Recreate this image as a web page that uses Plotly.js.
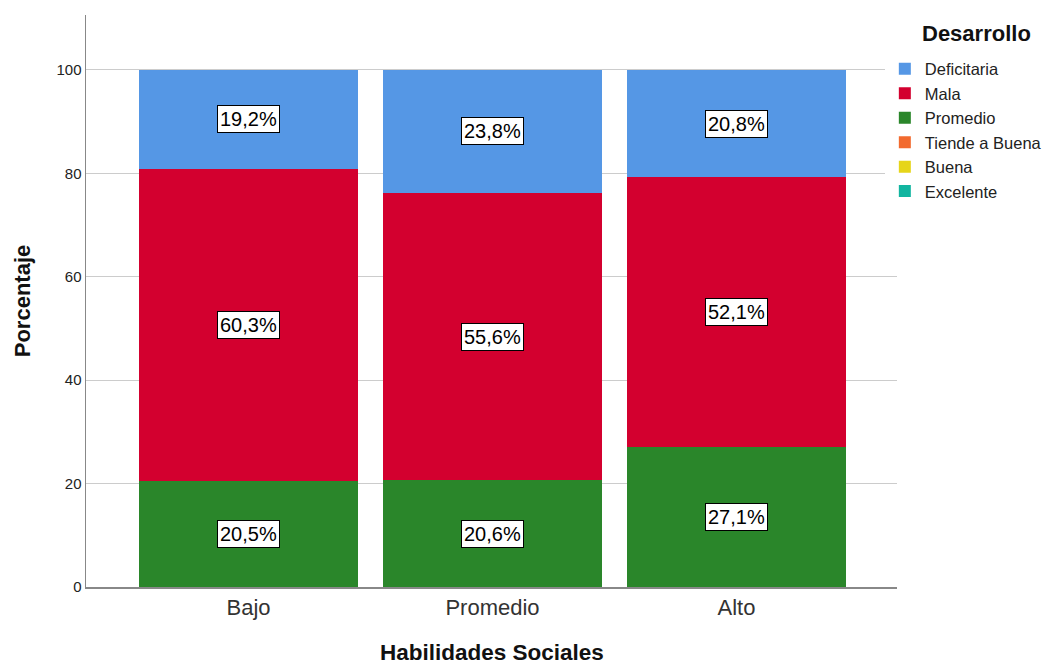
<!DOCTYPE html>
<html>
<head>
<meta charset="utf-8">
<script src="https://cdn.plot.ly/plotly-3.0.1.min.js"></script>
<style>html,body{margin:0;padding:0;background:#fff;}#chart{width:1056px;height:664px;}</style>
</head>
<body>
<div id="chart"></div>
<script>
const categories = ["Bajo", "Promedio", "Alto"];
const seriesNames = ["Deficitaria", "Mala", "Promedio", "Tiende a Buena", "Buena", "Excelente"];
const deficitaria = [19.2, 23.8, 20.8];
const mala = [60.3, 55.6, 52.1];
const promedio = [20.5, 20.6, 27.1];
const tiendeABuena = [0, 0, 0];
const buena = [0, 0, 0];
const excelente = [0, 0, 0];
const yTicks = [0, 20, 40, 60, 80, 100];

const colors = {
  "Deficitaria": "#5597E5",
  "Mala": "#D3002F",
  "Promedio": "#2A862A",
  "Tiende a Buena": "#F26A2E",
  "Buena": "#E6D51A",
  "Excelente": "#12B5A0"
};

// bottom-to-top stacking order
const stack = [
  ["Excelente", excelente],
  ["Buena", buena],
  ["Tiende a Buena", tiendeABuena],
  ["Promedio", promedio],
  ["Mala", mala],
  ["Deficitaria", deficitaria]
];

const font = "Liberation Sans, Arial, sans-serif";

const traces = stack.map(([name, vals]) => ({
  type: "bar",
  name: name,
  x: categories,
  y: vals,
  width: 0.898,
  marker: {color: colors[name], line: {width: 0}},
  hoverinfo: "skip"
}));

// labels in the middle of each non-zero segment
const annotations = [];
const cum = categories.map(() => 0);
stack.forEach(([name, vals]) => {
  vals.forEach((v, i) => {
    if (v > 0) {
      annotations.push({
        x: categories[i], y: cum[i] + v / 2, xref: "x", yref: "y",
        text: v.toFixed(1).replace(".", ",") + "%",
        showarrow: false,
        font: {family: font, size: 20, color: "#000"},
        bgcolor: "#fff", bordercolor: "#000", borderwidth: 1, borderpad: 2
      });
    }
    cum[i] += v;
  });
});

annotations.push({
  xref: "paper", yref: "paper", x: 1.0986, y: 0.9685,
  xanchor: "center", yanchor: "middle", showarrow: false,
  text: "<b>Desarrollo</b>",
  font: {family: font, size: 22, color: "#111"}
});
annotations.push({
  xref: "paper", yref: "paper", x: 0.5, y: -0.1145,
  xanchor: "center", yanchor: "middle", showarrow: false,
  text: "<b>Habilidades Sociales</b>",
  font: {family: font, size: 22.5, color: "#111"}
});

const layout = {
  width: 1056, height: 664,
  margin: {l: 86, r: 159, t: 15, b: 77, autoexpand: false},
  paper_bgcolor: "#fff", plot_bgcolor: "#fff",
  barmode: "stack",
  font: {family: font, color: "#222"},
  xaxis: {
    type: "category",
    range: [-0.666, 2.658],
    showline: true, linecolor: "#888", linewidth: 1.5,
    ticks: "", showgrid: false,
    tickfont: {size: 22, color: "#333"},
    automargin: false
  },
  yaxis: {
    range: [0, 110.6],
    tickvals: yTicks,
    ticktext: yTicks.map(String),
    showline: true, linecolor: "#888", linewidth: 1.5,
    showgrid: true, gridcolor: "#cccccc", gridwidth: 1,
    zeroline: false,
    ticks: "", ticklen: 0,
    automargin: false,
    tickfont: {size: 15, color: "#222"},
    title: {text: "Porcentaje", font: {size: 22, color: "#111", family: font, weight: "bold"}, standoff: 20}
  },
  legend: {
    x: 0.985, xanchor: "left", y: 0.936, yanchor: "top",
    traceorder: "reversed",
    font: {size: 16.5, color: "#222", family: font},
    itemwidth: 30, tracegroupgap: 0
  },
  annotations: annotations
};

Plotly.newPlot("chart", traces, layout, {displayModeBar: false, staticPlot: true});
</script>
</body>
</html>
